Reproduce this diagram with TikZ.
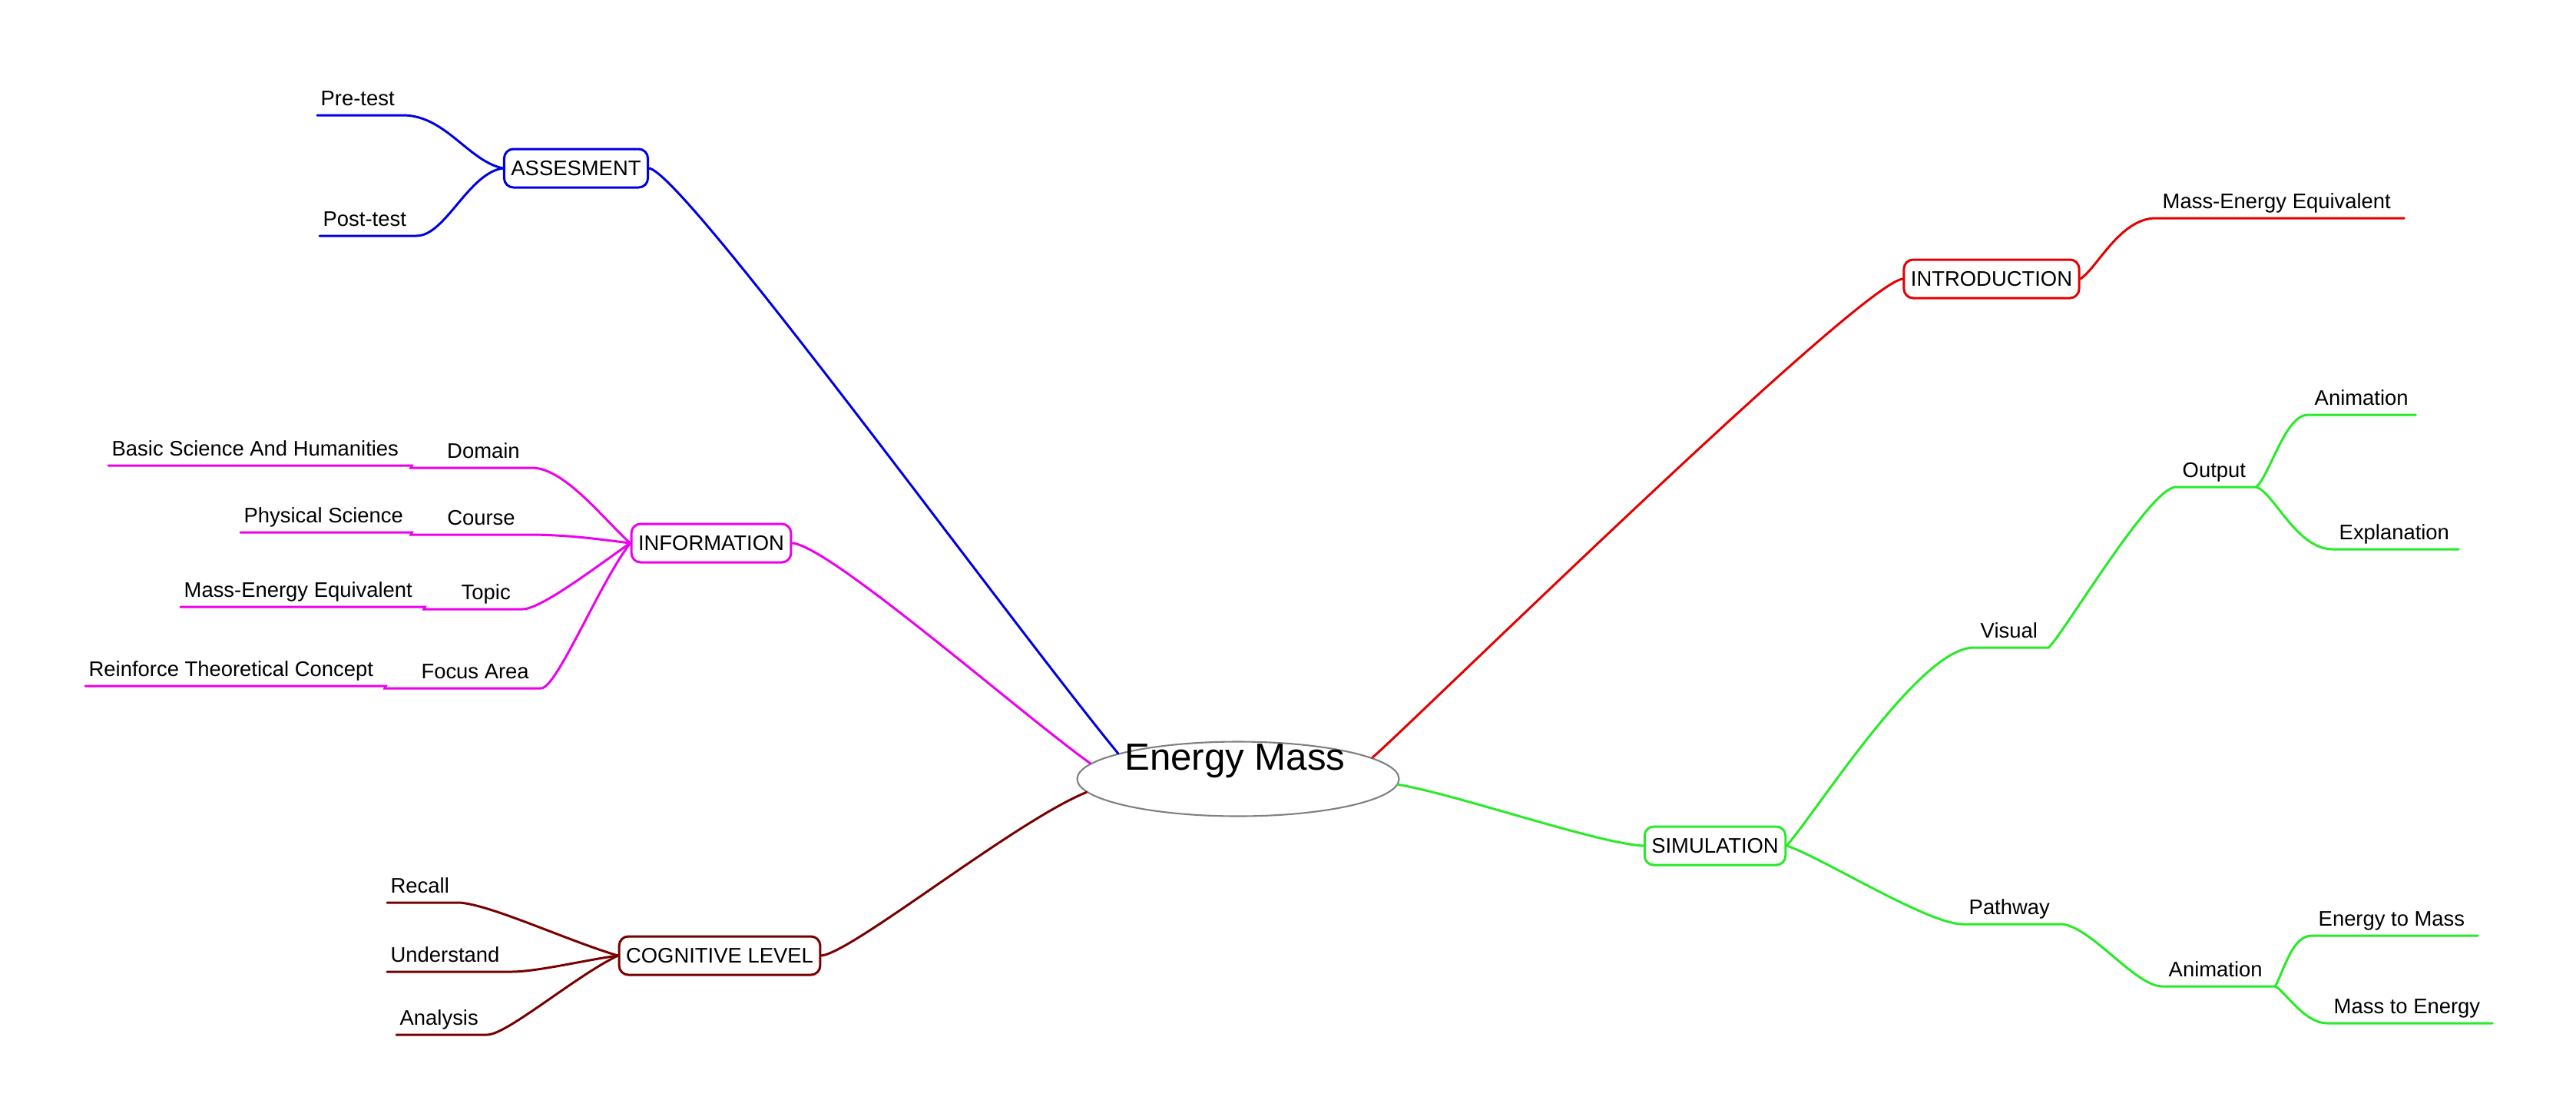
\documentclass[tikz,border=0pt]{standalone}
\usepackage{fontspec}
\setmainfont{Liberation Sans}
\usetikzlibrary{shapes.geometric}
\definecolor{asblue}{RGB}{0,0,230}
\definecolor{infmag}{RGB}{238,0,238}
\definecolor{cogred}{RGB}{120,0,0}
\definecolor{intred}{RGB}{230,0,0}
\definecolor{simgreen}{RGB}{40,235,40}
\definecolor{rootgray}{RGB}{128,128,128}
\newcommand\mapfont{\fontsize{7.8}{9.4}\selectfont}
\newcommand\rootfont{\fontsize{14}{17}\selectfont}
\tikzset{
  box/.style={draw,rounded corners=1.2mm,line width=0.85pt,fill=white,minimum height=5mm,inner xsep=0.9mm,inner ysep=0pt,font=\mapfont},
  leaf/.style={inner xsep=0.4mm,inner ysep=1.2mm,text depth=0pt,anchor=south west,align=flush left,text width=#1,font=\mapfont},
  rleaf/.style={leaf=#1,inner xsep=0.8mm},
  mid/.style={leaf=#1,inner xsep=1.5mm,align=flush right},
  branch/.style={line width=0.85pt,line cap=round},
}
\begin{document}
\begin{tikzpicture}[x=1mm,y=-1mm]
\fill[white] (0,0) rectangle (335.4,145.7);
% centre
\node[ellipse,draw=rootgray,line width=0.6pt,minimum width=41.9mm,minimum height=9.7mm,inner sep=0pt] (root) at (161.2,101.4) {};
\node[anchor=base,font=\rootfont,inner sep=0pt] (rootname) at (160.8,100.2) {Energy Mass};
% main topics
\node[box,draw=asblue] (assess) at (75.0,21.9) {ASSESMENT};
\node[box,draw=infmag] (info) at (92.6,70.7) {INFORMATION};
\node[box,draw=cogred] (cogn) at (93.7,124.4) {COGNITIVE LEVEL};
\node[box,draw=intred] (intro) at (259.3,36.3) {INTRODUCTION};
\node[box,draw=simgreen] (sim) at (223.3,110.1) {SIMULATION};
% assesment
\node[leaf=10.2mm] (pre) at (41.3,15.0) {Pre-test};
\node[leaf=11.7mm] (post) at (41.6,30.7) {Post-test};
% information
\node[leaf=38.6mm] (basic) at (14.1,60.6) {Basic Science And Humanities};
\node[mid=12.6mm] (domain) at (53.5,60.9) {Domain};
\node[leaf=21.4mm] (physci) at (31.3,69.3) {Physical Science};
\node[mid=12.0mm] (course) at (53.5,69.6) {Course};
\node[leaf=30.9mm] (massen) at (23.5,79.0) {Mass-Energy Equivalent};
\node[mid=9.7mm] (topic) at (55.2,79.3) {Topic};
\node[leaf=38.2mm] (reinf) at (11.1,89.3) {Reinforce Theoretical Concept};
\node[mid=17.2mm] (focus) at (50.1,89.6) {Focus Area};
% cognitive level
\node[leaf=8.5mm] (recall) at (50.4,117.5) {Recall};
\node[leaf=15.2mm] (underst) at (50.4,126.5) {Understand};
\node[leaf=10.9mm] (analysis) at (51.6,134.7) {Analysis};
% introduction
\node[rleaf=30.6mm] (meq) at (280.7,28.4) {Mass-Energy Equivalent};
% simulation
\node[rleaf=8.0mm] (visual) at (257.0,84.3) {Visual};
\node[rleaf=8.7mm] (output) at (283.3,63.4) {Output};
\node[rleaf=12.3mm] (anim) at (300.5,54.0) {Animation};
\node[rleaf=14.7mm] (expl) at (303.7,71.5) {Explanation};
\node[rleaf=11.0mm] (pathway) at (255.5,120.3) {Pathway};
\node[rleaf=13.0mm] (panim) at (281.5,128.4) {Animation};
\node[rleaf=19.9mm] (etom) at (301.0,121.8) {Energy to Mass};
\node[rleaf=19.8mm] (mtoe) at (303.0,133.2) {Mass to Energy};

% blue branch
\draw[branch,asblue] (assess.east) .. controls (89,22.5) and (130,79) .. (root.168);
\draw[branch,asblue] (pre.south west) -- (pre.south east) .. controls (58,15.0) and (61,21) .. (assess.west);
\draw[branch,asblue] (post.south west) -- (post.south east) .. controls (58,30.7) and (61,22.5) .. (assess.west);
% magenta branch
\draw[branch,infmag] (info.east) .. controls (108,71) and (133,93) .. (root.174);
\draw[branch,infmag] (basic.south west) -- (basic.south east) -- (domain.south west) -- (domain.south east) .. controls (73.5,60.9) and (78.5,67.5) .. (info.west);
\draw[branch,infmag] (physci.south west) -- (physci.south east) -- (course.south west) -- (course.south east) .. controls (74,69.6) and (78,70.2) .. (info.west);
\draw[branch,infmag] (massen.south west) -- (massen.south east) -- (topic.south west) -- (topic.south east) .. controls (70.5,79.3) and (78,73.5) .. (info.west);
\draw[branch,infmag] (reinf.south west) -- (reinf.south east) -- (focus.south west) -- (focus.south east) .. controls (72.5,89.6) and (78,76) .. (info.west);
% maroon branch
\draw[branch,cogred] (cogn.east) .. controls (111,124) and (132,107) .. (root.185);
\draw[branch,cogred] (recall.south west) -- (recall.south east) .. controls (64,117.8) and (74,122.5) .. (cogn.west);
\draw[branch,cogred] (underst.south west) -- (underst.south east) .. controls (70,126.5) and (76,125) .. (cogn.west);
\draw[branch,cogred] (analysis.south west) -- (analysis.south east) .. controls (66,134.7) and (75,127) .. (cogn.west);
% red branch
\draw[branch,intred] (root.9) .. controls (183,95) and (242,37) .. (intro.west);
\draw[branch,intred] (intro.east) .. controls (273,35) and (276,28.4) .. (meq.south west) -- (meq.south east);
% green branch
\draw[branch,simgreen] (root.-2) .. controls (190,103.5) and (208,109.8) .. (sim.west);
\draw[branch,simgreen] (sim.east) .. controls (237,105) and (250,84.3) .. (visual.south west) -- (visual.south east)
  .. controls (269,82) and (280,63.4) .. (output.south west) -- (output.south east);
\draw[branch,simgreen] (output.south east) .. controls (295.5,62) and (297.5,54) .. (anim.south west) -- (anim.south east);
\draw[branch,simgreen] (output.south east) .. controls (296,64) and (299,71.5) .. (expl.south west) -- (expl.south east);
\draw[branch,simgreen] (sim.east) .. controls (237,111.5) and (251,120.3) .. (pathway.south west) -- (pathway.south east)
  .. controls (272,120.3) and (278,128.4) .. (panim.south west) -- (panim.south east);
\draw[branch,simgreen] (panim.south east) .. controls (297.5,126) and (298.5,121.8) .. (etom.south west) -- (etom.south east);
\draw[branch,simgreen] (panim.south east) .. controls (297.5,129) and (300,133.2) .. (mtoe.south west) -- (mtoe.south east);
\end{tikzpicture}
\end{document}
